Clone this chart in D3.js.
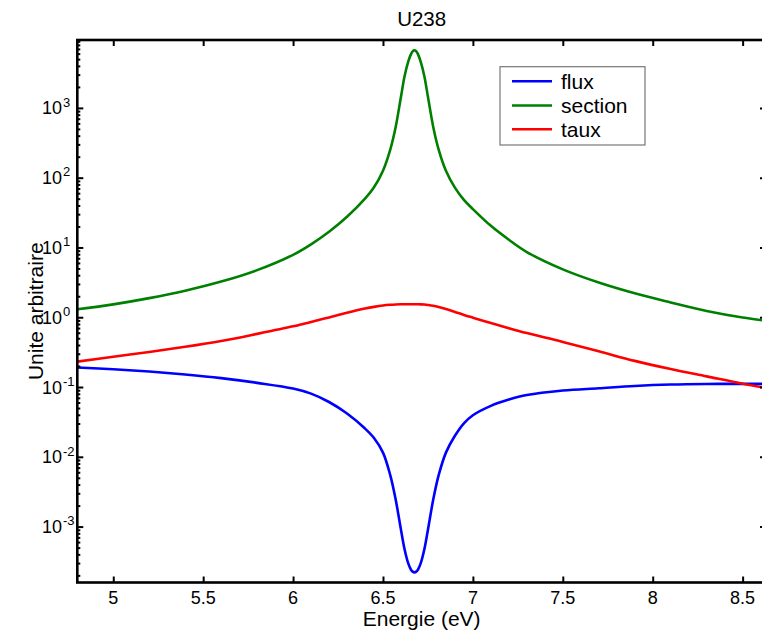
<!DOCTYPE html>
<html>
<head>
<meta charset="utf-8">
<script src="https://cdn.jsdelivr.net/npm/d3@7"></script>
<style>
  html, body { margin: 0; padding: 0; background: #fff; }
  svg { display: block; }
  text { font-family: "Liberation Sans", Arial, sans-serif; fill: #000; }
</style>
</head>
<body>
<svg id="chart" width="762" height="635"></svg>
<script>
// ---- data ----
const energy = [4.8, 5.0, 5.2, 5.4, 5.6, 5.8, 6.0, 6.1, 6.2, 6.3, 6.4, 6.45, 6.5, 6.54, 6.57, 6.6, 6.62, 6.64, 6.655, 6.665, 6.675, 6.685, 6.695, 6.71, 6.73, 6.75, 6.78, 6.81, 6.85, 6.9, 6.95, 7.0, 7.1, 7.2, 7.3, 7.5, 7.7, 7.9, 8.1, 8.3, 8.5, 8.63];
const flux = [0.190, 0.1795, 0.1667, 0.1514, 0.1343, 0.1148, 0.0951, 0.0804, 0.061, 0.0417, 0.0254, 0.0186, 0.01148, 0.0055, 0.00248, 0.000902, 0.000473, 0.000299, 0.000243, 0.000226, 0.000221, 0.000226, 0.000243, 0.000299, 0.000473, 0.000902, 0.00248, 0.0055, 0.01148, 0.020, 0.0302, 0.0394, 0.0537, 0.066, 0.0767, 0.089, 0.096, 0.1035, 0.1086, 0.1107, 0.1109, 0.1109];
const section = [1.30, 1.53, 1.88, 2.40, 3.24, 4.73, 7.85, 11.1, 16.8, 27.5, 50, 73, 126, 251, 525, 1445, 2850, 4570, 5860, 6460, 6700, 6460, 5860, 4570, 2850, 1445, 525, 251, 126, 72, 48, 35.5, 20.4, 12.9, 8.6, 4.85, 3.14, 2.2, 1.63, 1.23, 0.99, 0.89];
const taux = [0.231, 0.272, 0.318, 0.377, 0.457, 0.578, 0.741, 0.855, 0.995, 1.159, 1.33, 1.409, 1.476, 1.51, 1.526, 1.533, 1.535, 1.536, 1.537, 1.537, 1.536, 1.535, 1.534, 1.531, 1.52, 1.50, 1.46, 1.40, 1.31, 1.19, 1.08, 0.987, 0.828, 0.697, 0.593, 0.443, 0.325, 0.237, 0.181, 0.142, 0.1115, 0.097];
const seriesNames = ["flux", "section", "taux"];
const seriesColors = ["#0000ff", "#008000", "#ff0000"];
const xTicks = [5, 5.5, 6, 6.5, 7, 7.5, 8, 8.5];
const yDecades = [-3, -2, -1, 0, 1, 2, 3];
const xDomain = [4.8, 8.63];
const yDomain = [1.58e-4, 9.4e3];
const titleText = "U238";
const xLabel = "Energie (eV)";
const yLabel = "Unite arbitraire";

// ---- layout ----
const L = 77.3, R = 766, T = 40, B = 582.5;
const svg = d3.select("#chart");
const x = d3.scaleLinear().domain(xDomain).range([L, R]);
const y = d3.scaleLog().domain(yDomain).range([B, T]);

// ---- curves ----
const allSeries = [flux, section, taux];
const line = d3.line()
  .x((d, i) => x(energy[i]))
  .y(d => y(d))
  .curve(d3.curveCatmullRom.alpha(0.5));

svg.append("defs").append("clipPath").attr("id", "clip")
  .append("rect").attr("x", L).attr("y", T).attr("width", R - L).attr("height", B - T);

const g = svg.append("g").attr("clip-path", "url(#clip)");
allSeries.forEach((s, k) => {
  g.append("path")
    .datum(s)
    .attr("d", line)
    .attr("fill", "none")
    .attr("stroke", seriesColors[k])
    .attr("stroke-width", 2.6)
    .attr("stroke-linejoin", "round");
});

// ---- axes (MATLAB style box with inward ticks) ----
const axG = svg.append("g");
const xb = d3.axisBottom(x).tickValues(xTicks).tickSize(-6).tickFormat("");
const xt = d3.axisTop(x).tickValues(xTicks).tickSize(-6).tickFormat("");
axG.append("g").attr("transform", `translate(0,${B})`).call(xb);
axG.append("g").attr("transform", `translate(0,${T})`).call(xt);
const minorVals = y.ticks().filter(v => {
  const lg = Math.log10(v);
  return Math.abs(lg - Math.round(lg)) > 1e-6;
});
const majorVals = yDecades.map(p => Math.pow(10, p));
axG.append("g").attr("transform", `translate(${L},0)`)
  .call(d3.axisLeft(y).tickValues(minorVals).tickSize(-3).tickFormat(""));
axG.append("g").attr("transform", `translate(${L},0)`)
  .call(d3.axisLeft(y).tickValues(majorVals).tickSize(-6).tickFormat(""));
axG.append("g").attr("transform", `translate(${R},0)`)
  .call(d3.axisRight(y).tickValues(minorVals).tickSize(-3).tickFormat(""));
axG.append("g").attr("transform", `translate(${R},0)`)
  .call(d3.axisRight(y).tickValues(majorVals).tickSize(-6).tickFormat(""));
axG.selectAll(".domain").remove();
axG.selectAll(".tick line").attr("stroke", "#000").attr("stroke-width", 2);

// frame
svg.append("rect")
  .attr("x", L).attr("y", T).attr("width", R - L).attr("height", B - T)
  .attr("fill", "none").attr("stroke", "#000").attr("stroke-width", 2.6);

// x tick labels
svg.append("g").selectAll("text").data(xTicks).join("text")
  .attr("x", d => x(d)).attr("y", B + 21)
  .attr("text-anchor", "middle")
  .attr("font-size", 18)
  .text(d => String(d));

// y tick labels 10^n
const yl = svg.append("g").selectAll("text").data(yDecades).join("text")
  .attr("x", 42).attr("y", d => y(Math.pow(10, d)) + 6.5)
  .attr("font-size", 18);
yl.append("tspan").text("10");
yl.append("tspan").attr("font-size", 13).attr("dy", -7.8).attr("dx", 1).text(d => String(d));

// title & labels
svg.append("text").attr("x", (L + R) / 2).attr("y", 26)
  .attr("text-anchor", "middle").attr("font-size", 20.5).text(titleText);
svg.append("text").attr("x", (L + R) / 2).attr("y", 626)
  .attr("text-anchor", "middle").attr("font-size", 21).text(xLabel);
svg.append("text")
  .attr("transform", `translate(43,${(T + B) / 2}) rotate(-90)`)
  .attr("text-anchor", "middle").attr("font-size", 21).text(yLabel);

// ---- legend ----
const lg = svg.append("g");
lg.append("rect").attr("x", 500).attr("y", 66.7).attr("width", 145).attr("height", 78.3)
  .attr("fill", "#fff").attr("stroke", "#777").attr("stroke-width", 1.2);
const rowY = [81.3, 105.5, 129.3];
seriesNames.forEach((name, k) => {
  lg.append("line").attr("x1", 512).attr("x2", 552)
    .attr("y1", rowY[k]).attr("y2", rowY[k])
    .attr("stroke", seriesColors[k]).attr("stroke-width", 2.6);
  lg.append("text").attr("x", 561).attr("y", rowY[k] + 7.6)
    .attr("font-size", 21).text(name);
});
</script>
</body>
</html>
